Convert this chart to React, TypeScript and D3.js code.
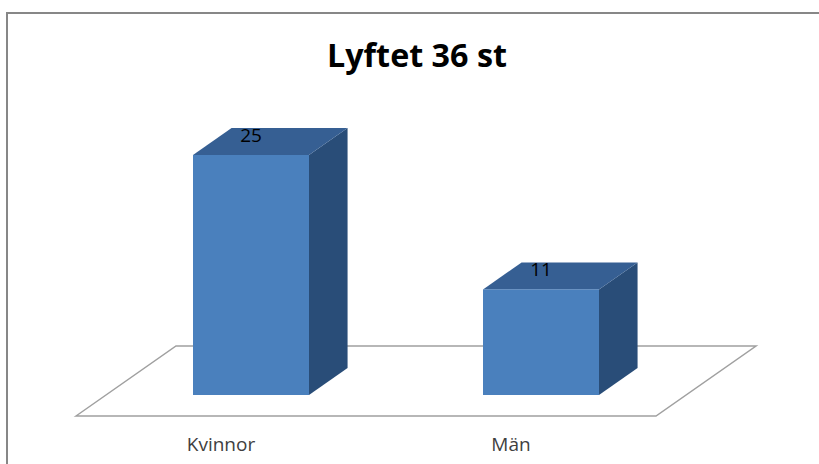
import React from "react";
import * as d3 from "d3";

// data
const categories = ["Kvinnor", "Män"];
const values = [25, 11];
const title = "Lyftet 36 st";

const W = 819;
const H = 464;

// floor (oblique 3D projection)
const floorFrontY = 416;
const floorX0 = 76;
const floorX1 = 656;
const floorDy = 70;
const slope = 100 / 70; // dx per dy going back
const barOffsetDy = 21; // bar front sits this far behind floor front
const barDepthDy = 27;

const App = () => {
  const x = d3.scaleBand<string>().domain(categories).range([floorX0, floorX1]);
  const bw = x.bandwidth();
  const baseY = floorFrontY - barOffsetDy;
  const y = d3.scaleLinear().domain([0, 30]).range([baseY, baseY - 288]);

  const shiftX = barOffsetDy * slope;
  const dDx = barDepthDy * slope;
  const dDy = barDepthDy;

  const floorPts = [
    [floorX0, floorFrontY],
    [floorX0 + floorDy * slope, floorFrontY - floorDy],
    [floorX1 + floorDy * slope, floorFrontY - floorDy],
    [floorX1, floorFrontY],
  ];

  return (
    <svg
      width={W}
      height={H}
      style={{ position: "absolute", left: 0, top: 0, background: "#fff" }}
      fontFamily="'Open Sans', 'DejaVu Sans', sans-serif"
    >
      <rect x={7} y={13} width={900} height={600} fill="#fff" stroke="#878787" strokeWidth={2} />
      <text
        x={417}
        y={67}
        textAnchor="middle"
        fontSize={32}
        fontWeight="bold"
        fill="#000"
        textLength={180}
        lengthAdjust="spacingAndGlyphs"
      >
        {title}
      </text>

      <polygon
        points={floorPts.map((p) => p.join(",")).join(" ")}
        fill="#fff"
        stroke="#a0a0a0"
        strokeWidth={1.5}
      />

      {categories.map((c, i) => {
        const x0 = (x(c) as number) + shiftX + bw * 0.3;
        const x1 = x0 + bw * 0.4;
        const yTop = y(values[i]);
        const top = [
          [x0, yTop],
          [x0 + dDx, yTop - dDy],
          [x1 + dDx, yTop - dDy],
          [x1, yTop],
        ];
        const side = [
          [x1, yTop],
          [x1 + dDx, yTop - dDy],
          [x1 + dDx, baseY - dDy],
          [x1, baseY],
        ];
        return (
          <g key={c}>
            <polygon points={side.map((p) => p.join(",")).join(" ")} fill="#294d78" />
            <polygon points={top.map((p) => p.join(",")).join(" ")} fill="#365f93" />
            <rect x={x0} y={yTop} width={x1 - x0} height={baseY - yTop} fill="#4a80bd" />
            <text x={(x0 + x1) / 2} y={yTop - 13} textAnchor="middle" fontSize={19} fill="#000">
              {values[i]}
            </text>
          </g>
        );
      })}

      {categories.map((c) => (
        <text
          key={c}
          x={(x(c) as number) + bw / 2}
          y={451}
          textAnchor="middle"
          fontSize={19}
          fill="#404040"
        >
          {c}
        </text>
      ))}
    </svg>
  );
};

export default App;
